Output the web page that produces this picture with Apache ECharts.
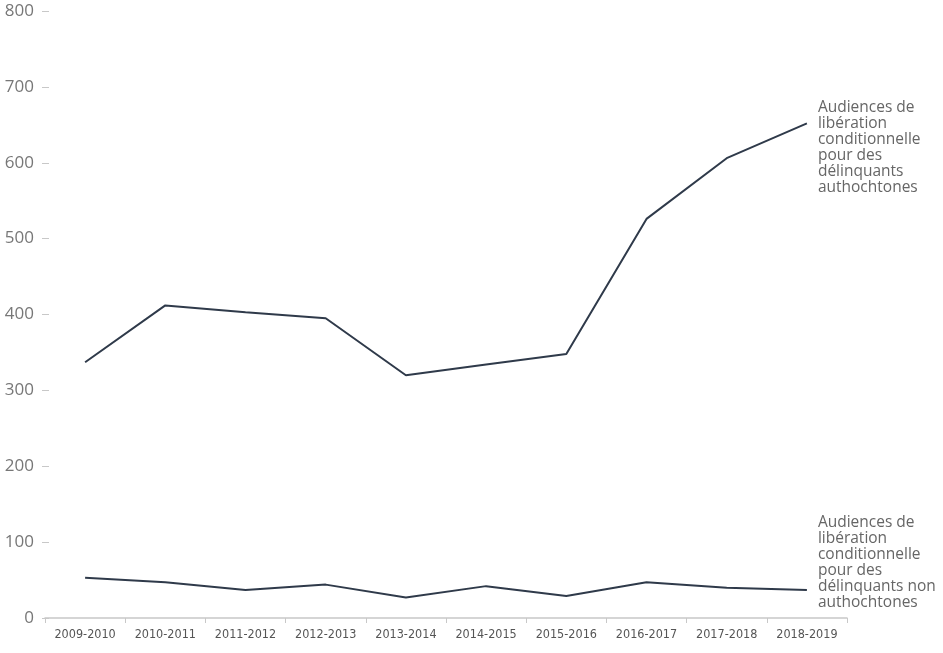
<!DOCTYPE html>
<html>
  <head>
    <meta charset="utf-8" />
    <script src="https://cdn.jsdelivr.net/npm/echarts@6/dist/echarts.min.js"></script>
  </head>
  <body style="margin:0">
    <div id="main" style="width: 943px;height:653px;"></div>
    <script type="text/javascript">
      var years = ['2009-2010', '2010-2011', '2011-2012', '2012-2013', '2013-2014',
        '2014-2015', '2015-2016', '2016-2017', '2017-2018', '2018-2019'];
      var autochtones = [337, 412, 403, 395, 320, 334, 348, 526, 606, 652];
      var nonAutochtones = [53, 47, 37, 44, 27, 42, 29, 47, 40, 37];
      var nomAutochtones = 'Audiences de\nlibération\nconditionnelle\npour des\ndélinquants\nauthochtones';
      var nomNonAutochtones = 'Audiences de\nlibération\nconditionnelle\npour des\ndélinquants non\nauthochtones';

      var myChart = echarts.init(document.getElementById('main'));
      var lineColor = '#2f3a4a';
      var endLabel = function (dy) {
        return {
          show: true,
          formatter: '{a}',
          color: '#666',
          fontSize: 15.5,
          lineHeight: 16,
          fontFamily: 'Open Sans',
          align: 'left',
          verticalAlign: 'middle',
          distance: 5,
          offset: [6, dy]
        };
      };
      var option = {
        animation: false,
        grid: { left: 45, right: 96, top: 11, bottom: 35, containLabel: false },
        xAxis: {
          type: 'category',
          data: years,
          boundaryGap: true,
          axisLine: { lineStyle: { color: '#c8c8c8', width: 1.5 } },
          axisTick: { show: true, length: 5, lineStyle: { color: '#c8c8c8' } },
          axisLabel: {
            color: '#555',
            fontSize: 12.5,
            fontFamily: 'DejaVu Sans Condensed, Liberation Sans, sans-serif',
            margin: 10,
            interval: 0
          }
        },
        yAxis: {
          type: 'value',
          min: 0,
          max: 800,
          interval: 100,
          offset: -4,
          axisLine: { show: false },
          axisTick: { show: true, length: 7, lineStyle: { color: '#c8c8c8' } },
          splitLine: { show: false },
          axisLabel: {
            color: '#777',
            fontSize: 17,
            fontFamily: 'Open Sans',
            margin: 15
          }
        },
        series: [
          {
            name: nomAutochtones,
            type: 'line',
            symbol: 'none',
            data: autochtones,
            lineStyle: { color: lineColor, width: 2 },
            endLabel: endLabel(24)
          },
          {
            name: nomNonAutochtones,
            type: 'line',
            symbol: 'none',
            data: nonAutochtones,
            lineStyle: { color: lineColor, width: 2 },
            endLabel: endLabel(-27)
          }
        ]
      };
      myChart.setOption(option);
    </script>
  </body>
</html>
